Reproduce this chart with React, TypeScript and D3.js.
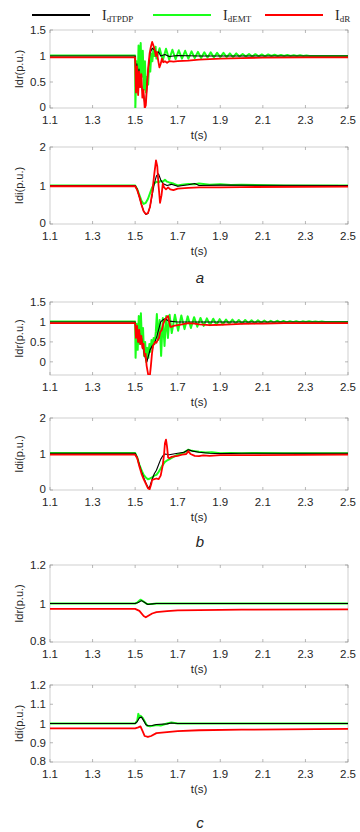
import React from 'react';
import * as d3 from 'd3';

type Pt = [number, number];

// x axis
const xTicks = [1.1, 1.3, 1.5, 1.7, 1.9, 2.1, 2.3, 2.5];

// legend
const seriesNames = ['dTPDP', 'dEMT', 'dR'];
const seriesColors = ['#000000', '#1aff1a', '#ff0000'];

// (a) Idr
const aIdrTPDP: Pt[] = [[1.1,1.0],[1.5,1.0],[1.503,0.6],[1.508,0.85],[1.513,0.45],[1.518,0.75],[1.523,0.4],[1.528,0.5],[1.533,0.35],[1.538,0.3],[1.543,0.15],[1.547,0.02],[1.552,0.2],[1.56,0.7],[1.57,1.05],[1.58,1.15],[1.59,1.12],[1.6,1.05],[1.61,1.08],[1.62,1.0],[1.64,1.03],[1.66,0.99],[1.7,1.01],[1.8,1.0],[2.5,1.0]];
const aIdrEMT: Pt[] = [[1.1,1.01],[1.5,1.01],[1.501,0.0],[1.506,0.9],[1.511,0.3],[1.516,1.2],[1.521,0.5],[1.526,1.25],[1.531,0.6],[1.536,1.1],[1.541,0.35],[1.546,0.9],[1.551,0.3],[1.556,0.6],[1.561,0.45],[1.566,0.9],[1.571,0.7],[1.576,1.05],[1.581,0.9],[1.586,1.15],[1.591,1.0],[1.596,1.18],
  [1.6,0.95],[1.615,1.15],[1.63,0.92],[1.645,1.14],[1.66,0.93],[1.675,1.12],[1.69,0.94],[1.705,1.11],[1.72,0.95],[1.735,1.1],[1.75,0.95],[1.765,1.09],[1.78,0.96],[1.795,1.08],[1.81,0.96],[1.825,1.07],[1.84,0.97],[1.855,1.07],[1.87,0.97],[1.885,1.06],[1.9,0.98],[1.915,1.06],[1.93,0.98],[1.945,1.05],[1.96,0.98],[1.975,1.05],[1.99,0.99],[2.005,1.04],[2.02,0.99],[2.035,1.04],[2.05,0.99],[2.065,1.035],[2.08,0.995],[2.095,1.03],[2.11,0.995],[2.125,1.03],[2.14,1.0],[2.155,1.025],[2.17,1.0],[2.185,1.02],[2.2,1.0],[2.215,1.02],[2.23,1.0],[2.245,1.015],[2.26,1.0],[2.275,1.015],[2.29,1.0],[2.305,1.01],[2.32,1.0],[2.5,1.0]];
const aIdrR: Pt[] = [[1.1,0.975],[1.5,0.975],[1.504,0.3],[1.509,0.8],[1.514,0.25],[1.519,0.7],[1.524,0.4],[1.529,0.65],[1.534,0.2],[1.539,0.35],[1.545,0.0],[1.55,0.05],[1.556,0.45],[1.562,0.8],[1.568,1.05],[1.574,1.18],[1.58,1.27],[1.586,1.2],[1.592,1.12],[1.597,1.0],[1.602,1.08],[1.608,0.92],[1.614,0.78],[1.62,0.85],[1.626,0.95],[1.632,0.88],[1.64,0.9],[1.65,0.87],[1.66,0.9],[1.68,0.89],[1.7,0.9],[1.75,0.91],[1.8,0.93],[1.85,0.94],[1.9,0.95],[2.0,0.96],[2.1,0.97],[2.3,0.975],[2.5,0.975]];

// (a) Idi
const aIdiTPDP: Pt[] = [[1.1,1.0],[1.5,1.0],[1.51,0.9],[1.52,0.7],[1.53,0.5],[1.54,0.33],[1.55,0.25],[1.56,0.27],[1.57,0.45],[1.58,0.75],[1.59,1.05],[1.6,1.25],[1.61,1.3],[1.62,1.15],[1.63,1.05],[1.65,1.0],[1.67,1.03],[1.7,0.98],[1.75,1.02],[1.78,1.05],[1.8,1.0],[1.9,1.01],[2.5,1.0]];
const aIdiEMT: Pt[] = [[1.1,1.0],[1.5,1.0],[1.51,0.9],[1.52,0.75],[1.53,0.6],[1.54,0.52],[1.55,0.55],[1.56,0.65],[1.57,0.8],[1.58,0.95],[1.59,1.05],[1.6,1.1],[1.61,1.08],[1.62,1.12],[1.63,1.1],[1.64,1.15],[1.65,1.1],[1.66,1.08],[1.68,1.05],[1.7,1.0],[1.72,1.02],[1.75,1.04],[1.78,1.03],[1.8,1.05],[1.85,1.02],[1.9,1.03],[1.95,1.01],[2.0,1.02],[2.2,1.0],[2.5,1.0]];
const aIdiR: Pt[] = [[1.1,0.98],[1.5,0.98],[1.51,0.88],[1.52,0.7],[1.53,0.5],[1.54,0.33],[1.55,0.26],[1.56,0.28],[1.57,0.45],[1.58,0.8],[1.59,1.3],[1.598,1.65],[1.604,1.5],[1.61,1.0],[1.617,0.55],[1.624,0.75],[1.63,1.05],[1.636,0.95],[1.645,0.9],[1.655,0.95],[1.665,0.9],[1.68,0.88],[1.7,0.92],[1.75,0.94],[1.8,0.95],[1.9,0.95],[2.0,0.96],[2.5,0.97]];

// (b) Idr
const bIdrTPDP: Pt[] = [[1.1,1.0],[1.5,1.0],[1.505,0.7],[1.51,0.85],[1.515,0.5],[1.52,0.75],[1.525,0.45],[1.53,0.6],[1.535,0.35],[1.54,0.3],[1.545,0.15],[1.55,0.05],[1.555,0.0],[1.56,0.1],[1.57,0.3],[1.58,0.4],[1.59,0.45],[1.6,0.6],[1.61,0.8],[1.62,1.0],[1.63,1.05],[1.64,1.08],[1.66,1.02],[1.7,1.0],[2.5,1.0]];
const bIdrEMT: Pt[] = [[1.1,1.01],[1.5,1.01],[1.502,0.1],[1.507,0.95],[1.512,0.3],[1.517,1.15],[1.522,0.45],[1.527,1.22],[1.532,0.5],[1.537,0.85],[1.542,0.15],[1.547,0.5],[1.552,0.0],[1.557,0.35],[1.562,0.1],[1.567,0.45],[1.572,0.25],[1.577,0.55],[1.582,0.35],[1.587,0.6],[1.592,0.45],[1.597,0.75],[1.602,1.2],[1.608,0.55],[1.615,1.05],[1.622,0.15],[1.63,1.1],[1.638,0.4],[1.646,1.15],[1.654,0.6],[1.662,1.18],[1.672,0.72],[1.687,1.18],[1.702,0.78],[1.717,1.16],[1.732,0.82],[1.747,1.14],[1.762,0.85],[1.777,1.12],[1.792,0.88],[1.807,1.1],[1.822,0.9],[1.837,1.09],[1.852,0.92],[1.867,1.08],[1.882,0.93],[1.897,1.07],[1.912,0.94],[1.927,1.06],[1.942,0.95],[1.957,1.06],[1.972,0.96],[1.987,1.05],[2.002,0.96],[2.017,1.05],[2.032,0.97],[2.047,1.04],[2.062,0.97],[2.077,1.04],[2.092,0.98],[2.107,1.035],[2.122,0.98],[2.137,1.03],[2.152,0.985],[2.167,1.03],[2.182,0.99],[2.197,1.025],[2.212,0.99],[2.227,1.02],[2.242,0.995],[2.257,1.02],[2.272,0.995],[2.287,1.015],[2.302,1.0],[2.317,1.015],[2.332,1.0],[2.347,1.01],[2.362,1.0],[2.377,1.01],[2.392,1.0],[2.5,1.0]];
const bIdrR: Pt[] = [[1.1,0.97],[1.5,0.97],[1.504,0.6],[1.509,0.9],[1.514,0.5],[1.519,0.8],[1.524,0.45],[1.529,0.65],[1.534,0.35],[1.539,0.45],[1.544,0.15],[1.549,0.2],[1.554,-0.1],[1.559,-0.25],[1.564,-0.4],[1.569,-0.35],[1.574,-0.1],[1.579,0.2],[1.584,0.4],[1.589,0.45],[1.594,0.5],[1.6,0.48],[1.606,0.55],[1.612,0.6],[1.618,0.75],[1.625,0.8],[1.632,0.95],[1.64,1.05],[1.648,1.12],[1.655,1.15],[1.66,1.0],[1.665,0.88],[1.672,0.88],[1.68,0.9],[1.7,0.92],[1.72,0.94],[1.75,0.97],[1.78,0.96],[1.8,0.94],[1.85,0.92],[1.9,0.93],[1.95,0.94],[2.0,0.95],[2.1,0.96],[2.2,0.97],[2.5,0.97]];

// (b) Idi
const bIdiTPDP: Pt[] = [[1.1,1.02],[1.5,1.02],[1.51,0.9],[1.52,0.7],[1.53,0.5],[1.54,0.35],[1.55,0.2],[1.56,0.08],[1.565,0.05],[1.57,0.12],[1.58,0.3],[1.59,0.45],[1.6,0.55],[1.61,0.7],[1.62,0.85],[1.63,0.95],[1.64,1.0],[1.66,0.98],[1.7,1.02],[1.73,1.05],[1.75,1.12],[1.77,1.08],[1.8,1.05],[1.85,1.02],[1.9,1.01],[2.0,1.02],[2.5,1.02]];
const bIdiEMT: Pt[] = [[1.1,1.03],[1.5,1.03],[1.51,0.9],[1.52,0.7],[1.53,0.55],[1.54,0.42],[1.55,0.35],[1.56,0.3],[1.57,0.32],[1.58,0.35],[1.59,0.4],[1.6,0.42],[1.61,0.5],[1.62,0.6],[1.63,0.7],[1.64,0.78],[1.65,0.82],[1.66,0.85],[1.68,0.92],[1.7,0.98],[1.72,1.02],[1.74,1.08],[1.75,1.12],[1.76,1.1],[1.78,1.08],[1.8,1.06],[1.83,1.04],[1.86,1.05],[1.9,1.02],[1.95,1.03],[2.0,1.02],[2.05,1.03],[2.2,1.02],[2.5,1.02]];
const bIdiR: Pt[] = [[1.1,0.98],[1.5,0.98],[1.51,0.88],[1.52,0.65],[1.53,0.45],[1.54,0.3],[1.55,0.18],[1.56,0.05],[1.568,0.02],[1.575,0.15],[1.58,0.28],[1.59,0.3],[1.6,0.32],[1.61,0.3],[1.62,0.4],[1.63,0.7],[1.636,1.0],[1.64,1.3],[1.645,1.4],[1.65,1.2],[1.655,0.9],[1.66,0.88],[1.67,0.92],[1.7,0.95],[1.72,0.98],[1.74,1.0],[1.75,1.08],[1.76,1.0],[1.78,0.95],[1.8,0.94],[1.82,0.96],[1.85,0.95],[1.9,0.97],[2.0,0.97],[2.5,0.98]];

// (c) Idr
const cIdrTPDP: Pt[] = [[1.1,1.0],[1.5,1.0],[1.515,1.005],[1.53,1.015],[1.545,1.005],[1.56,0.995],[1.58,0.998],[1.6,1.0],[2.5,1.0]];
const cIdrEMT: Pt[] = [[1.1,1.0],[1.5,1.0],[1.51,1.005],[1.525,1.02],[1.54,1.01],[1.555,0.997],[1.58,0.998],[1.6,1.0],[2.5,1.0]];
const cIdrR: Pt[] = [[1.1,0.972],[1.5,0.972],[1.52,0.962],[1.54,0.935],[1.55,0.928],[1.56,0.935],[1.58,0.948],[1.6,0.955],[1.65,0.96],[1.7,0.964],[1.8,0.966],[2.0,0.968],[2.5,0.97]];

// (c) Idi
const cIdiTPDP: Pt[] = [[1.1,1.0],[1.5,1.0],[1.51,1.01],[1.52,1.03],[1.53,1.033],[1.54,1.015],[1.55,0.995],[1.56,0.988],[1.58,0.99],[1.6,0.995],[1.65,0.998],[1.67,1.003],[1.7,1.0],[2.5,1.0]];
const cIdiEMT: Pt[] = [[1.1,1.0],[1.5,1.0],[1.51,1.015],[1.515,1.05],[1.52,1.03],[1.525,1.04],[1.535,1.03],[1.545,1.01],[1.555,0.99],[1.57,0.985],[1.6,0.992],[1.62,0.99],[1.65,1.0],[1.67,1.005],[1.7,1.0],[2.5,1.0]];
const cIdiR: Pt[] = [[1.1,0.975],[1.5,0.975],[1.515,0.98],[1.525,0.985],[1.535,0.96],[1.545,0.935],[1.56,0.93],[1.575,0.935],[1.6,0.95],[1.65,0.955],[1.7,0.96],[1.8,0.965],[2.0,0.968],[2.5,0.972]];

const idrTicks = [0, 0.5, 1, 1.5];
const idiTicks = [0, 1, 2];
const cIdrTicks = [0.8, 1, 1.2];
const cIdiTicks = [0.8, 0.9, 1, 1.1, 1.2];

const W = 360;
const H = 832;
const LEFT = 50;
const RIGHT = 348;
const TXT = '#262626';
const SANS = 'Liberation Sans, Arial, Helvetica, sans-serif';

const panels = [
  { id: 'p1', top: 30, bottom: 108, domain: [0, 1.5], ticks: idrTicks, label: 'Idr(p.u.)', data: [aIdrTPDP, aIdrEMT, aIdrR] },
  { id: 'p2', top: 147, bottom: 224, domain: [0, 2], ticks: idiTicks, label: 'Idi(p.u.)', data: [aIdiTPDP, aIdiEMT, aIdiR] },
  { id: 'p3', top: 302, bottom: 375, domain: [-0.33, 1.5], ticks: idrTicks, label: 'Idr(p.u.)', data: [bIdrTPDP, bIdrEMT, bIdrR] },
  { id: 'p4', top: 418, bottom: 490, domain: [0, 2], ticks: idiTicks, label: 'Idi(p.u.)', data: [bIdiTPDP, bIdiEMT, bIdiR] },
  { id: 'p5', top: 565, bottom: 642, domain: [0.8, 1.2], ticks: cIdrTicks, label: 'Idr(p.u.)', data: [cIdrTPDP, cIdrEMT, cIdrR] },
  { id: 'p6', top: 685, bottom: 762, domain: [0.8, 1.2], ticks: cIdiTicks, label: 'Idi(p.u.)', data: [cIdiTPDP, cIdiEMT, cIdiR] },
];

const subLabels = [
  { text: 'a', y: 283 },
  { text: 'b', y: 547 },
  { text: 'c', y: 828 },
];

const x = d3.scaleLinear().domain([1.1, 2.5]).range([LEFT, RIGHT]);
const fmt = d3.format('~g');

// draw order: green under, black, red on top
const drawOrder = [1, 0, 2];
const widths = [1.1, 2, 1.8];

function Panel({ p }: { p: typeof panels[number] }) {
  const y = d3.scaleLinear().domain(p.domain).range([p.bottom, p.top]);
  const line = d3.line<Pt>().x(d => x(d[0])).y(d => y(d[1]));
  const mid = (p.top + p.bottom) / 2;
  return (
    <g>
      <defs>
        <clipPath id={'clip-' + p.id}>
          <rect x={LEFT} y={p.top} width={RIGHT - LEFT} height={p.bottom - p.top} />
        </clipPath>
      </defs>
      <rect x={LEFT} y={p.top} width={RIGHT - LEFT} height={p.bottom - p.top} fill="#fff" stroke="#c4c4c4" strokeWidth={0.8} />
      {xTicks.map(t => (
        <g key={'x' + t}>
          <line x1={x(t)} x2={x(t)} y1={p.bottom} y2={p.bottom - 3} stroke="#888" strokeWidth={0.6} />
          <line x1={x(t)} x2={x(t)} y1={p.top} y2={p.top + 3} stroke="#888" strokeWidth={0.6} />
          <text x={x(t)} y={p.bottom + 15.5} textAnchor="middle" fontSize={11.5} fill={TXT} fontFamily={SANS}>{t.toFixed(1)}</text>
        </g>
      ))}
      {p.ticks.map(t => (
        <g key={'y' + t}>
          <line x1={LEFT} x2={LEFT + 3} y1={y(t)} y2={y(t)} stroke="#888" strokeWidth={0.6} />
          <line x1={RIGHT} x2={RIGHT - 3} y1={y(t)} y2={y(t)} stroke="#888" strokeWidth={0.6} />
          <text x={LEFT - 4} y={y(t) + (t === p.domain[0] ? 2.5 : 4)} textAnchor="end" fontSize={11.5} fill={TXT} fontFamily={SANS}>{fmt(t)}</text>
        </g>
      ))}
      <g clipPath={'url(#clip-' + p.id + ')'}>
        {drawOrder.map(i => (
          <path key={i} d={line(p.data[i]) || ''} fill="none" stroke={seriesColors[i]} strokeWidth={widths[i]} strokeLinejoin="round" />
        ))}
      </g>
      <text transform={`translate(23,${mid}) rotate(-90)`} textAnchor="middle" fontSize={11} fill={TXT} fontFamily={SANS}>{p.label}</text>
      <text x={(LEFT + RIGHT) / 2} y={p.bottom + 30.5} textAnchor="middle" fontSize={11.5} fill={TXT} fontFamily={SANS}>t(s)</text>
    </g>
  );
}

export default function App() {
  const legendX = [32, 153, 265];
  return (
    <svg width={W} height={H} style={{ position: 'absolute', left: 0, top: 0, background: '#fff' }}>
      {seriesNames.map((n, i) => (
        <g key={n}>
          <line x1={legendX[i]} x2={legendX[i] + 58} y1={15} y2={15} stroke={seriesColors[i]} strokeWidth={2} />
          <text x={legendX[i] + 70} y={20} fontFamily="Liberation Serif, Times New Roman, serif" fontSize={14} fill={TXT}>
            I<tspan fontSize={9} dy={2}>{n}</tspan>
          </text>
        </g>
      ))}
      {panels.map(p => <Panel key={p.id} p={p} />)}
      {subLabels.map(s => (
        <text key={s.text} x={200} y={s.y} textAnchor="middle" fontStyle="italic" fontSize={15} fill={TXT} fontFamily={SANS}>{s.text}</text>
      ))}
    </svg>
  );
}
